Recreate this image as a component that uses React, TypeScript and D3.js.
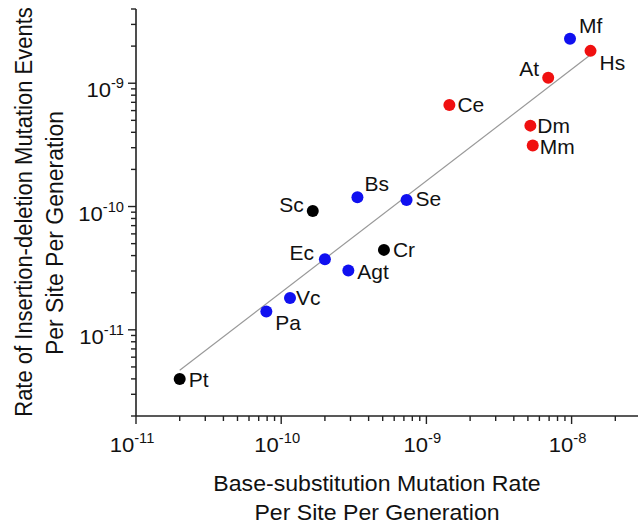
import React, { useRef, useEffect } from "react";
import * as d3 from "d3";

// species, base-substitution rate (x) and indel rate (y), per site per generation
const species = ["Pt", "Pa", "Vc", "Ec", "Agt", "Cr", "Sc", "Bs", "Se", "Ce", "Dm", "Mm", "At", "Mf", "Hs"];
const baseSubRate = [2.0e-11, 7.9e-11, 1.15e-10, 2.0e-10, 2.9e-10, 5.1e-10, 1.65e-10, 3.35e-10, 7.3e-10, 1.44e-9, 5.2e-9, 5.4e-9, 6.9e-9, 9.75e-9, 1.35e-8];
const indelRate = [4.0e-12, 1.41e-11, 1.81e-11, 3.74e-11, 3.03e-11, 4.45e-11, 9.2e-11, 1.19e-10, 1.13e-10, 6.67e-10, 4.53e-10, 3.12e-10, 1.11e-9, 2.29e-9, 1.83e-9];
const group = ["uni", "bac", "bac", "bac", "bac", "uni", "uni", "bac", "bac", "multi", "multi", "multi", "multi", "bac", "multi"];

// regression line end points
const fitX = [2.0e-11, 1.35e-8];
const fitY = [4.7e-12, 1.7e-9];

const xTickExps = [-11, -10, -9, -8];
const yTickExps = [-11, -10, -9];

const colors = { bac: "#1010f0", multi: "#f01010", uni: "#000000" };
// label placement relative to dot: [dx, dy, anchor]
const labelPos = {
  Pt: [9, 8, "start"], Pa: [9, 19, "start"], Vc: [6, 7, "start"], Ec: [-11, 1, "end"],
  Agt: [9, 9, "start"], Cr: [9, 7, "start"], Sc: [-9, 1, "end"], Bs: [7, -6, "start"],
  Se: [9, 6, "start"], Ce: [8, 7, "start"], Dm: [7, 7, "start"], Mm: [7, 8, "start"],
  At: [-9, -2, "end"], Mf: [9, -6, "start"], Hs: [9, 19, "start"],
};

const W = 638;
const H = 525;
const SX = 1.05; // the source is a bit wider than tall
const FONT = "'Liberation Sans', Arial, sans-serif";

export default function App() {
  const svgRef = useRef<SVGSVGElement>(null);

  useEffect(() => {
    const svg = d3.select(svgRef.current);
    svg.selectAll("*").remove();

    const decX = 145.2;
    const x = d3.scaleLog().domain([1e-11, 3e-8]).range([136, 136 + decX * Math.log10(3000)]);
    const y = d3.scaleLog().domain([2e-12, 4e-9]).range([416, 9]);
    const x0 = x.range()[0];
    const y0 = y.range()[0];

    const g = svg.append("g").attr("font-family", FONT).attr("fill", "#111");

    // axes lines
    g.append("line").attr("x1", x0).attr("x2", W).attr("y1", y0).attr("y2", y0)
      .attr("stroke", "#222").attr("stroke-width", 1.6);
    g.append("line").attr("x1", x0).attr("x2", x0).attr("y1", y0).attr("y2", y.range()[1])
      .attr("stroke", "#222").attr("stroke-width", 1.6);

    const isMajor = (v: number) => Math.abs(Math.log10(v) - Math.round(Math.log10(v))) < 1e-6;

    // x ticks
    g.selectAll(".xt").data(x.ticks()).enter().append("line")
      .attr("x1", (d) => x(d)).attr("x2", (d) => x(d))
      .attr("y1", y0).attr("y2", (d) => y0 + (isMajor(d) ? 8 : 5))
      .attr("stroke", "#222").attr("stroke-width", 1.4);
    // y ticks
    g.selectAll(".yt").data(y.ticks()).enter().append("line")
      .attr("y1", (d) => y(d)).attr("y2", (d) => y(d))
      .attr("x1", x0).attr("x2", (d) => x0 - (isMajor(d) ? 8 : 5))
      .attr("stroke", "#222").attr("stroke-width", 1.4);

    // tick labels
    const powLabel = (sel: any, e: number) => {
      sel.append("tspan").attr("font-size", 21).text("10");
      sel.append("tspan").attr("font-size", 14).attr("dy", -9).text(String(e));
    };
    xTickExps.forEach((e) => {
      const t = g.append("text").attr("text-anchor", "middle")
        .attr("transform", `translate(${x(10 ** e) - 4},452) scale(${SX},1)`);
      powLabel(t, e);
    });
    yTickExps.forEach((e) => {
      const t = g.append("text").attr("text-anchor", "end")
        .attr("transform", `translate(124,${y(10 ** e) + 14}) scale(${SX},1)`);
      powLabel(t, e);
    });

    // fit line
    const line = d3.line<number>().x((d) => x(fitX[d])).y((d) => y(fitY[d]));
    g.append("path").datum([0, 1]).attr("d", line)
      .attr("fill", "none").attr("stroke", "#999").attr("stroke-width", 1.2);

    // points
    const idx = d3.range(species.length);
    g.selectAll("circle").data(idx).enter().append("circle")
      .attr("cx", (i) => x(baseSubRate[i])).attr("cy", (i) => y(indelRate[i]))
      .attr("r", 6).attr("fill", (i) => colors[group[i]]);

    g.selectAll(".lbl").data(idx).enter().append("text")
      .attr("font-size", 20)
      .attr("text-anchor", (i) => labelPos[species[i]][2])
      .attr("transform", (i) => {
        const [dx, dy] = labelPos[species[i]];
        return `translate(${x(baseSubRate[i]) + dx},${y(indelRate[i]) + dy}) scale(${SX},1)`;
      })
      .text((i) => species[i]);

    // axis titles
    const xc = 377;
    [["Base-substitution Mutation Rate", 491], ["Per Site Per Generation", 520]].forEach(([s, yy]) => {
      g.append("text").attr("text-anchor", "middle").attr("font-size", 22)
        .attr("transform", `translate(${xc},${yy}) scale(${SX},1)`).text(s as string);
    });
    [["Rate of Insertion-deletion Mutation Events", 32, 212, 22], ["Per Site Per Generation", 63, 233, 23]].forEach(([s, xx, yy, fs]) => {
      g.append("text").attr("text-anchor", "middle").attr("font-size", fs as number)
        .attr("transform", `translate(${xx},${yy}) scale(${SX},1) rotate(-90)`).text(s as string);
    });
  }, []);

  return (
    <svg ref={svgRef} width={W} height={H} viewBox={`0 0 ${W} ${H}`}
      style={{ position: "absolute", left: 0, top: 0, background: "#fff" }} />
  );
}
